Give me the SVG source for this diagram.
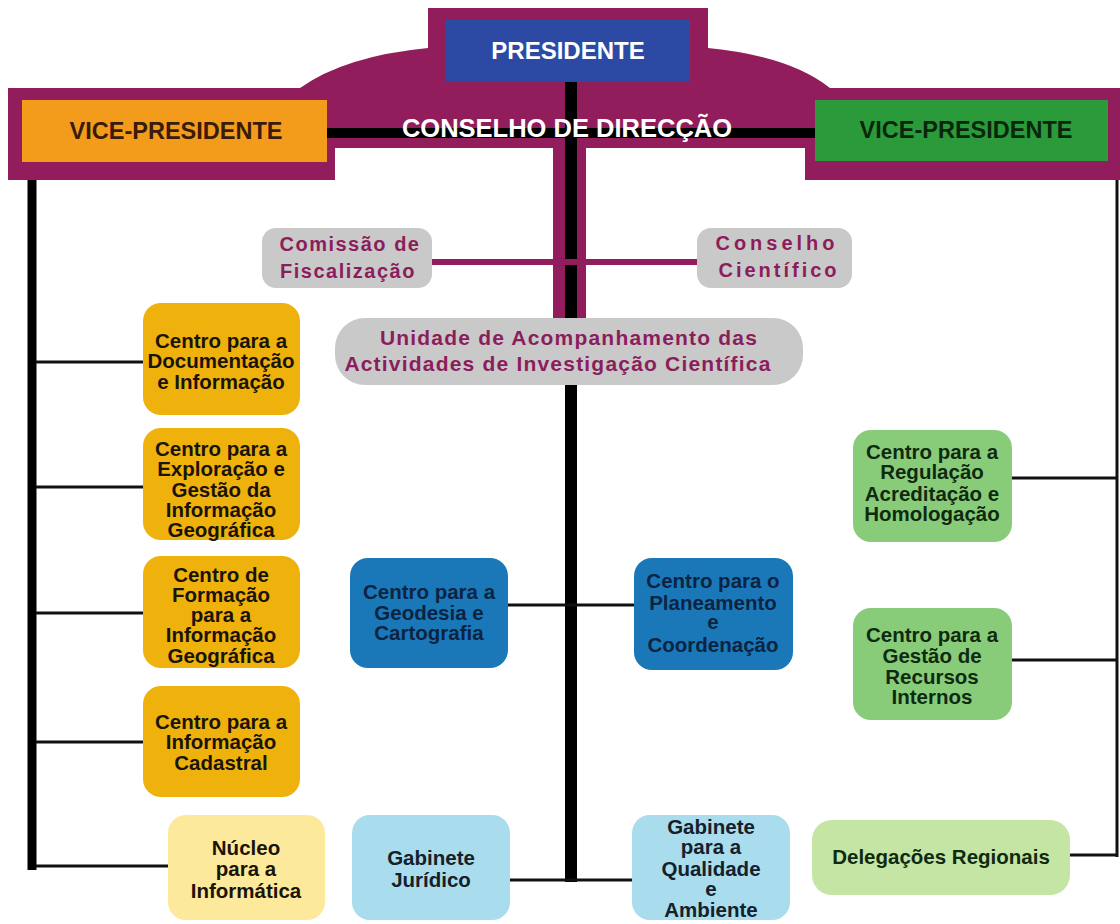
<svg xmlns="http://www.w3.org/2000/svg" width="1120" height="924" viewBox="0 0 1120 924">
<style>
.t{font-family:"Liberation Sans",Arial,sans-serif;font-weight:bold;text-anchor:middle}
.bx{font-size:20.5px;fill:#1a1408}
.nv{font-size:20.5px;fill:#0b2442}
.gr{font-size:20.5px;fill:#0f2a10}
.lb{font-size:20.5px;fill:#14202a}
.mr{font-size:20px;fill:#8c1d5c}
.thin{stroke:#111;stroke-width:3;fill:none}
</style>
<rect width="1120" height="924" fill="#ffffff"/>
<path id="band" d="M8,88 L300,88 Q345,56 428,48 L428,8 L708,8 L708,48 Q790,56 830,88 L1120,88 L1120,180 L805,180 L805,148 L586,148 L586,318 L553,318 L553,148 L335,148 L335,180 L8,180 Z" fill="#911d5c"/>
<g id="connectors">
<line x1="327" y1="133" x2="815" y2="133" stroke="#000" stroke-width="10"/>
<line x1="571" y1="82" x2="571" y2="882" stroke="#000" stroke-width="12"/>
<line x1="32" y1="180" x2="32" y2="870" stroke="#000" stroke-width="9"/>
<line x1="1117" y1="180" x2="1117" y2="857" class="thin"/>
<line x1="432" y1="262" x2="697" y2="262" stroke="#911d5c" stroke-width="6"/>
<line x1="36" y1="362" x2="143" y2="362" class="thin"/>
<line x1="36" y1="487" x2="143" y2="487" class="thin"/>
<line x1="36" y1="613" x2="143" y2="613" class="thin"/>
<line x1="36" y1="742" x2="143" y2="742" class="thin"/>
<line x1="36" y1="866" x2="168" y2="866" class="thin"/>
<line x1="508" y1="605" x2="634" y2="605" class="thin"/>
<line x1="510" y1="880" x2="632" y2="880" class="thin"/>
<line x1="1012" y1="478" x2="1117" y2="478" class="thin"/>
<line x1="1012" y1="660" x2="1117" y2="660" class="thin"/>
<line x1="1070" y1="855" x2="1117" y2="855" class="thin"/>
</g>
<g id="presidente">
<rect x="446" y="20" width="244" height="62" fill="#2c4aa3"/>
<text class="t" x="568" y="59" font-size="24" fill="#ffffff">PRESIDENTE</text>
</g>
<g id="vp-left">
<rect x="22" y="100" width="305" height="62" fill="#f39c1c"/>
<text class="t" x="176" y="139" font-size="23.5" fill="#3a1a08">VICE-PRESIDENTE</text>
</g>
<g id="vp-right">
<rect x="815" y="100" width="293" height="61" fill="#2a9a3a"/>
<text class="t" x="966" y="138" font-size="23.5" fill="#0a260c">VICE-PRESIDENTE</text>
</g>
<g id="conselho-direccao">
<text class="t" x="567" y="137" font-size="25.5" fill="#ffffff">CONSELHO DE DIRECÇÃO</text>
</g>
<g id="comissao">
<rect x="262" y="228" width="170" height="60" rx="14" fill="#c9c9c9"/>
<text class="t mr" x="350" y="251" letter-spacing="1.5">Comissão de</text>
<text class="t mr" x="348" y="278" letter-spacing="1.5">Fiscalização</text>
</g>
<g id="conselho-cientifico">
<rect x="697" y="228" width="155" height="60" rx="14" fill="#c9c9c9"/>
<text class="t mr" x="777" y="250" letter-spacing="4">Conselho</text>
<text class="t mr" x="779" y="277" letter-spacing="3">Científico</text>
</g>
<g id="unidade">
<rect x="335" y="318" width="468" height="67" rx="30" fill="#c9c9c9"/>
<text class="t" x="569" y="345" font-size="21" fill="#8c1d5c" letter-spacing="1.2">Unidade de Acompanhamento das</text>
<text class="t" x="558" y="371" font-size="21" fill="#8c1d5c" letter-spacing="1.2">Actividades de Investigação Científica</text>
</g>
<g id="documentacao">
<rect x="143" y="303" width="157" height="112" rx="18" fill="#efb20d"/>
<text class="t bx" x="221" y="348">Centro para a</text>
<text class="t bx" x="221" y="368">Documentação</text>
<text class="t bx" x="221" y="389">e Informação</text>
</g>
<g id="exploracao">
<rect x="143" y="428" width="157" height="112" rx="18" fill="#efb20d"/>
<text class="t bx" x="221" y="456">Centro para a</text>
<text class="t bx" x="221" y="476">Exploração e</text>
<text class="t bx" x="221" y="497">Gestão da</text>
<text class="t bx" x="221" y="517">Informação</text>
<text class="t bx" x="221" y="537">Geográfica</text>
</g>
<g id="formacao">
<rect x="143" y="556" width="157" height="112" rx="18" fill="#efb20d"/>
<text class="t bx" x="221" y="582">Centro de</text>
<text class="t bx" x="221" y="602">Formação</text>
<text class="t bx" x="221" y="622">para a</text>
<text class="t bx" x="221" y="642">Informação</text>
<text class="t bx" x="221" y="663">Geográfica</text>
</g>
<g id="cadastral">
<rect x="143" y="686" width="157" height="111" rx="18" fill="#efb20d"/>
<text class="t bx" x="221" y="729">Centro para a</text>
<text class="t bx" x="221" y="749">Informação</text>
<text class="t bx" x="221" y="770">Cadastral</text>
</g>
<g id="nucleo">
<rect x="168" y="815" width="157" height="105" rx="18" fill="#fde99c"/>
<text class="t bx" x="246" y="855">Núcleo</text>
<text class="t bx" x="246" y="876">para a</text>
<text class="t bx" x="246" y="898">Informática</text>
</g>
<g id="geodesia">
<rect x="350" y="558" width="158" height="110" rx="18" fill="#1b78b8"/>
<text class="t nv" x="429" y="599">Centro para a</text>
<text class="t nv" x="429" y="620">Geodesia e</text>
<text class="t nv" x="429" y="640">Cartografia</text>
</g>
<g id="planeamento">
<rect x="634" y="558" width="159" height="112" rx="18" fill="#1b78b8"/>
<text class="t nv" x="713" y="588">Centro para o</text>
<text class="t nv" x="713" y="610">Planeamento</text>
<text class="t nv" x="713" y="629">e</text>
<text class="t nv" x="713" y="652">Coordenação</text>
</g>
<g id="juridico">
<rect x="352" y="815" width="158" height="105" rx="18" fill="#a9dcec"/>
<text class="t lb" x="431" y="865">Gabinete</text>
<text class="t lb" x="431" y="887">Jurídico</text>
</g>
<g id="qualidade">
<rect x="632" y="815" width="158" height="105" rx="18" fill="#a9dcec"/>
<text class="t lb" x="711" y="834">Gabinete</text>
<text class="t lb" x="711" y="854">para a</text>
<text class="t lb" x="711" y="876">Qualidade</text>
<text class="t lb" x="711" y="896">e</text>
<text class="t lb" x="711" y="917">Ambiente</text>
</g>
<g id="regulacao">
<rect x="853" y="430" width="159" height="112" rx="18" fill="#88cc7a"/>
<text class="t gr" x="932" y="459">Centro para a</text>
<text class="t gr" x="932" y="479">Regulação</text>
<text class="t gr" x="932" y="501">Acreditação e</text>
<text class="t gr" x="932" y="521">Homologação</text>
</g>
<g id="recursos">
<rect x="853" y="608" width="159" height="112" rx="18" fill="#88cc7a"/>
<text class="t gr" x="932" y="642">Centro para a</text>
<text class="t gr" x="932" y="663">Gestão de</text>
<text class="t gr" x="932" y="684">Recursos</text>
<text class="t gr" x="932" y="704">Internos</text>
</g>
<g id="delegacoes">
<rect x="812" y="820" width="258" height="75" rx="20" fill="#c4e5a4"/>
<text class="t gr" x="941" y="864" font-size="20">Delegações Regionais</text>
</g>
</svg>
